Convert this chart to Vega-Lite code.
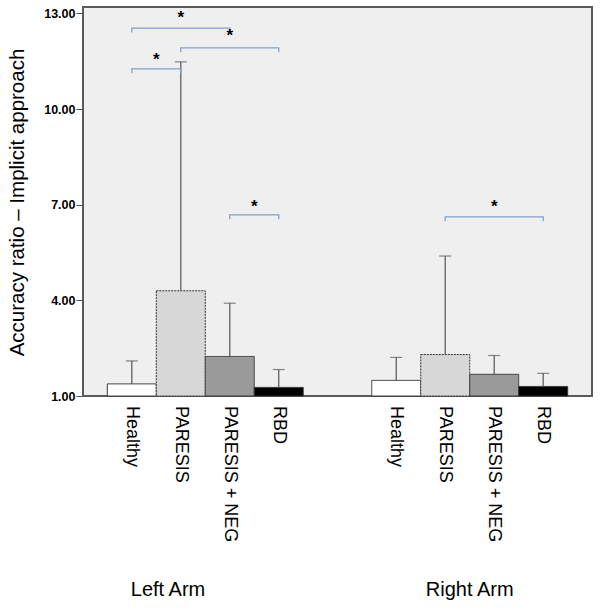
{
  "$schema": "https://vega.github.io/schema/vega-lite/v6.json",
  "width": 509,
  "height": 389,
  "autosize": {"type": "none"},
  "padding": {"left": 83, "top": 7, "right": 8, "bottom": 212},
  "background": "#ffffff",
  "config": {
    "font": "Liberation Sans",
    "view": {"stroke": "#5a5a5a", "strokeWidth": 2, "fill": "#efefef"}
  },
  "datasets": {
    "bars": [
      {"arm": "Left Arm", "group": "Healthy", "mean": 1.38, "upper": 2.10},
      {"arm": "Left Arm", "group": "PARESIS", "mean": 4.30, "upper": 11.48},
      {"arm": "Left Arm", "group": "PARESIS + NEG", "mean": 2.24, "upper": 3.91},
      {"arm": "Left Arm", "group": "RBD", "mean": 1.27, "upper": 1.83},
      {"arm": "Right Arm", "group": "Healthy", "mean": 1.49, "upper": 2.21},
      {"arm": "Right Arm", "group": "PARESIS", "mean": 2.30, "upper": 5.39},
      {"arm": "Right Arm", "group": "PARESIS + NEG", "mean": 1.68, "upper": 2.27},
      {"arm": "Right Arm", "group": "RBD", "mean": 1.30, "upper": 1.71}
    ],
    "brackets": [
      {"b": 1, "o": 1, "arm": "Left Arm", "group": "Healthy", "y": 11.12},
      {"b": 1, "o": 2, "arm": "Left Arm", "group": "Healthy", "y": 11.26},
      {"b": 1, "o": 3, "arm": "Left Arm", "group": "PARESIS", "y": 11.26},
      {"b": 1, "o": 4, "arm": "Left Arm", "group": "PARESIS", "y": 11.12},
      {"b": 2, "o": 1, "arm": "Left Arm", "group": "Healthy", "y": 12.40},
      {"b": 2, "o": 2, "arm": "Left Arm", "group": "Healthy", "y": 12.54},
      {"b": 2, "o": 3, "arm": "Left Arm", "group": "PARESIS + NEG", "y": 12.54},
      {"b": 2, "o": 4, "arm": "Left Arm", "group": "PARESIS + NEG", "y": 12.40},
      {"b": 3, "o": 1, "arm": "Left Arm", "group": "PARESIS", "y": 11.78},
      {"b": 3, "o": 2, "arm": "Left Arm", "group": "PARESIS", "y": 11.92},
      {"b": 3, "o": 3, "arm": "Left Arm", "group": "RBD", "y": 11.92},
      {"b": 3, "o": 4, "arm": "Left Arm", "group": "RBD", "y": 11.78},
      {"b": 4, "o": 1, "arm": "Left Arm", "group": "PARESIS + NEG", "y": 6.54},
      {"b": 4, "o": 2, "arm": "Left Arm", "group": "PARESIS + NEG", "y": 6.68},
      {"b": 4, "o": 3, "arm": "Left Arm", "group": "RBD", "y": 6.68},
      {"b": 4, "o": 4, "arm": "Left Arm", "group": "RBD", "y": 6.54},
      {"b": 5, "o": 1, "arm": "Right Arm", "group": "PARESIS", "y": 6.48},
      {"b": 5, "o": 2, "arm": "Right Arm", "group": "PARESIS", "y": 6.62},
      {"b": 5, "o": 3, "arm": "Right Arm", "group": "RBD", "y": 6.62},
      {"b": 5, "o": 4, "arm": "Right Arm", "group": "RBD", "y": 6.48}
    ],
    "stars": [
      {"arm": "Left Arm", "group": "Healthy", "y": 11.65, "span": 1},
      {"arm": "Left Arm", "group": "PARESIS", "y": 12.97, "span": 2},
      {"arm": "Left Arm", "group": "PARESIS + NEG", "y": 12.41, "span": 2},
      {"arm": "Left Arm", "group": "PARESIS + NEG", "y": 7.06, "span": 1},
      {"arm": "Right Arm", "group": "PARESIS + NEG", "y": 7.06, "span": 2}
    ]
  },
  "encoding": {
    "x": {
      "field": "arm",
      "type": "nominal",
      "sort": ["Left Arm", "Right Arm"],
      "scale": {"domain": ["Left Arm", "Right Arm"], "paddingInner": 0.259, "paddingOuter": 0.092},
      "axis": {
        "title": null,
        "domain": false,
        "ticks": false,
        "labelAngle": 0,
        "labelFontSize": 20,
        "labelColor": "#000000",
        "labelPadding": 183,
        "labelBaseline": "top",
        "labelAlign": {"condition": {"test": "datum.value == 'Left Arm'", "value": "right"}, "value": "center"}
      }
    },
    "xOffset": {
      "field": "group",
      "type": "nominal",
      "sort": ["Healthy", "PARESIS", "PARESIS + NEG", "RBD"],
      "scale": {"domain": ["Healthy", "PARESIS", "PARESIS + NEG", "RBD"], "paddingInner": 0, "paddingOuter": 0}
    }
  },
  "layer": [
    {
      "data": {"name": "bars"},
      "mark": {"type": "bar", "stroke": "#333333", "strokeWidth": 1},
      "encoding": {
        "y": {
          "field": "mean",
          "type": "quantitative",
          "title": "Accuracy ratio – Implicit approach",
          "scale": {"domain": [1, 13.2], "zero": false, "nice": false},
          "axis": {
            "title": "Accuracy ratio – Implicit approach",
            "titleFontSize": 20.5,
            "titleFontWeight": "normal",
            "titleColor": "#000000",
            "titleX": -66,
            "titleY": 195,
            "titleAlign": "center",
            "titleBaseline": "middle",
            "values": [1, 4, 7, 10, 13],
            "format": ".2f",
            "labelFontSize": 12.5,
            "labelFontWeight": "bold",
            "labelColor": "#000000",
            "labelPadding": 1,
            "tickSize": 7,
            "tickColor": "#555555",
            "domain": false,
            "grid": false
          }
        },
        "y2": {"datum": 1},
        "color": {
          "field": "group",
          "type": "nominal",
          "scale": {"domain": ["Healthy", "PARESIS", "PARESIS + NEG", "RBD"], "range": ["#ffffff", "#d7d7d7", "#9a9a9a", "#000000"]},
          "legend": null
        },
        "strokeDash": {
          "field": "group",
          "type": "nominal",
          "scale": {"domain": ["Healthy", "PARESIS", "PARESIS + NEG", "RBD"], "range": [[1, 0], [2, 1], [1, 0], [1, 0]]},
          "legend": null
        }
      }
    },
    {
      "data": {"name": "bars"},
      "mark": {"type": "rule", "color": "#555555", "strokeWidth": 1.2},
      "encoding": {
        "y": {"field": "mean", "type": "quantitative", "title": "Accuracy ratio – Implicit approach"},
        "y2": {"field": "upper"}
      }
    },
    {
      "data": {"name": "bars"},
      "mark": {"type": "tick", "color": "#555555", "thickness": 1.2, "size": 12, "orient": "horizontal"},
      "encoding": {
        "y": {"field": "upper", "type": "quantitative", "title": "Accuracy ratio – Implicit approach"}
      }
    },
    {
      "data": {"name": "bars"},
      "mark": {"type": "text", "angle": 90, "align": "left", "baseline": "middle", "dx": 10, "fontSize": 18, "color": "#000000"},
      "encoding": {
        "y": {"datum": 1, "type": "quantitative", "title": "Accuracy ratio – Implicit approach"},
        "text": {"field": "group"}
      }
    },
    {
      "data": {"name": "brackets"},
      "mark": {"type": "line", "color": "#7fa3cc", "strokeWidth": 1.3},
      "encoding": {
        "y": {"field": "y", "type": "quantitative", "title": "Accuracy ratio – Implicit approach"},
        "detail": {"field": "b"},
        "order": {"field": "o"}
      }
    },
    {
      "data": {"name": "stars"},
      "transform": [{"filter": "datum.span == 2"}],
      "mark": {"type": "text", "text": "*", "fontSize": 17, "fontWeight": "bold", "baseline": "alphabetic", "dy": 9, "color": "#000000"},
      "encoding": {
        "y": {"field": "y", "type": "quantitative", "title": "Accuracy ratio – Implicit approach"}
      }
    },
    {
      "data": {"name": "stars"},
      "transform": [{"filter": "datum.span == 1"}],
      "mark": {"type": "text", "text": "*", "fontSize": 17, "fontWeight": "bold", "baseline": "alphabetic", "dy": 9, "dx": 24.5, "color": "#000000"},
      "encoding": {
        "y": {"field": "y", "type": "quantitative", "title": "Accuracy ratio – Implicit approach"}
      }
    }
  ]
}
